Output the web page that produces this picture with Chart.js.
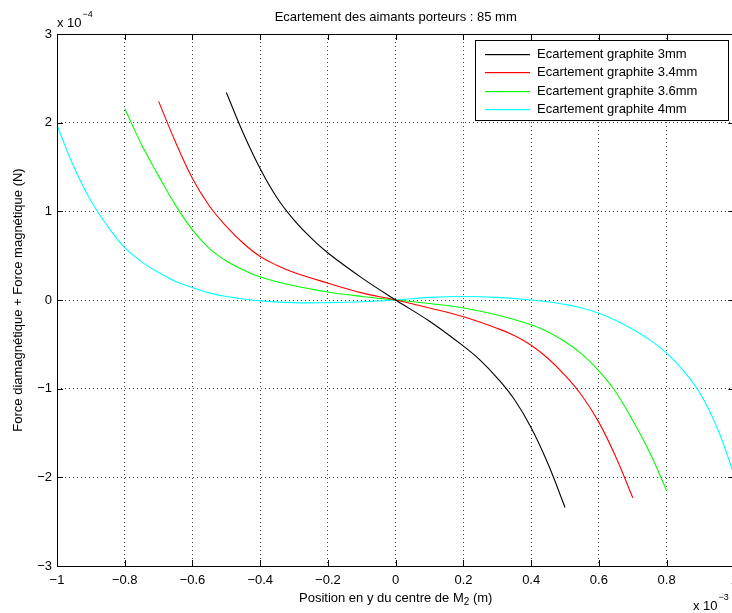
<!DOCTYPE html>
<html>
<head>
<meta charset="utf-8">
<script src="https://cdn.jsdelivr.net/npm/chart.js@4.4.1/dist/chart.umd.min.js"></script>
<style>
  html, body { margin: 0; padding: 0; background: #fff; overflow: hidden; }
  #wrap { position: absolute; left: 0; top: 0; width: 745px; height: 613px; }
</style>
</head>
<body>
<div id="wrap"><canvas id="forceChart" width="745" height="613"></canvas></div>
<script>
// positions in units of 1e-3 m, forces in units of 1e-4 N
const labels = ["Ecartement graphite 3mm", "Ecartement graphite 3.4mm", "Ecartement graphite 3.6mm", "Ecartement graphite 4mm"];
const colors = ["#000000", "#ff0000", "#00ff00", "#00ffff"];

const x3mm = [-0.5, -0.45, -0.4, -0.35, -0.3, -0.25, -0.2, -0.1, 0, 0.1, 0.2, 0.25, 0.3, 0.35, 0.4, 0.45, 0.5];
const f3mm = [2.34, 1.88, 1.48, 1.15, 0.90, 0.70, 0.53, 0.25, 0, -0.24, -0.52, -0.68, -0.88, -1.12, -1.44, -1.85, -2.34];

const x34mm = [-0.7, -0.65, -0.6, -0.55, -0.5, -0.45, -0.4, -0.35, -0.3, -0.2, -0.1, 0, 0.1, 0.2, 0.3, 0.35, 0.4, 0.45, 0.5, 0.55, 0.6, 0.65, 0.7];
const f34mm = [2.24, 1.78, 1.37, 1.06, 0.83, 0.64, 0.49, 0.39, 0.31, 0.19, 0.08, 0, -0.09, -0.19, -0.32, -0.40, -0.51, -0.66, -0.85, -1.08, -1.38, -1.77, -2.23];

const x36mm = [-0.8, -0.75, -0.7, -0.65, -0.6, -0.55, -0.5, -0.45, -0.4, -0.3, -0.2, -0.1, 0, 0.1, 0.2, 0.3, 0.4, 0.45, 0.5, 0.55, 0.6, 0.65, 0.7, 0.75, 0.8];
const f36mm = [2.16, 1.75, 1.40, 1.07, 0.79, 0.58, 0.44, 0.34, 0.26, 0.16, 0.09, 0.04, 0, -0.04, -0.09, -0.17, -0.28, -0.36, -0.47, -0.61, -0.80, -1.04, -1.36, -1.72, -2.15];

const x4mm = [-1, -0.95, -0.9, -0.85, -0.8, -0.75, -0.7, -0.65, -0.6, -0.55, -0.5, -0.4, -0.3, -0.2, -0.1, 0, 0.1, 0.2, 0.3, 0.4, 0.45, 0.5, 0.55, 0.6, 0.65, 0.7, 0.75, 0.8, 0.85, 0.9, 0.95, 1];
const f4mm = [1.97, 1.50, 1.12, 0.83, 0.59, 0.43, 0.31, 0.21, 0.14, 0.08, 0.04, -0.01, -0.03, -0.03, -0.02, 0, 0.03, 0.04, 0.03, 0, -0.02, -0.05, -0.09, -0.15, -0.23, -0.33, -0.45, -0.60, -0.80, -1.06, -1.45, -1.98];

const xSeries = [x3mm, x34mm, x36mm, x4mm];
const fSeries = [f3mm, f34mm, f36mm, f4mm];

const FONT = "'Liberation Sans', Arial, Helvetica, sans-serif";

function fmt(v) {
    const r = Math.round(v * 10) / 10;
    return String(r).replace("-", "\u2212");
}

// Title, axis labels, exponents, box, inward ticks and legend (MATLAB look)
const matlabDecor = {
    id: "matlabDecor",
    afterDraw(chart) {
        const { ctx, chartArea: a, scales } = chart;
        const xs = scales.x, ys = scales.y;
        ctx.save();
        ctx.fillStyle = "#000";
        ctx.font = "13px " + FONT;
        ctx.textAlign = "center";
        ctx.textBaseline = "middle";
        const cx = (a.left + a.right) / 2;
        ctx.fillText("Ecartement des aimants porteurs : 85 mm", cx, 17);

        // x label with subscript
        const p1 = "Position en y du centre de M", sub = "2", p2 = " (m)";
        ctx.textAlign = "left";
        const w1 = ctx.measureText(p1).width;
        ctx.font = "10px " + FONT;
        const ws = ctx.measureText(sub).width;
        ctx.font = "13px " + FONT;
        const w2 = ctx.measureText(p2).width;
        let sx = cx - (w1 + ws + w2) / 2;
        ctx.fillText(p1, sx, 598);
        ctx.font = "10px " + FONT;
        ctx.fillText(sub, sx + w1, 602);
        ctx.font = "13px " + FONT;
        ctx.fillText(p2, sx + w1 + ws, 598);

        // y label
        ctx.save();
        ctx.translate(18, (a.top + a.bottom) / 2);
        ctx.rotate(-Math.PI / 2);
        ctx.textAlign = "center";
        ctx.fillText("Force diamagnétique + Force magnétique (N)", 0, 0);
        ctx.restore();

        // exponents
        ctx.textAlign = "left";
        ctx.textBaseline = "alphabetic";
        ctx.fillText("x 10", a.left, 27);
        let w = ctx.measureText("x 10").width;
        ctx.font = "9px " + FONT;
        ctx.fillText("\u22124", a.left + w + 1, 17);
        ctx.font = "13px " + FONT;
        ctx.fillText("x 10", 693, 610);
        w = ctx.measureText("x 10").width;
        ctx.font = "9px " + FONT;
        ctx.fillText("\u22123", 693 + w + 1, 600);

        // box and inward ticks
        ctx.strokeStyle = "#000";
        ctx.lineWidth = 1;
        ctx.strokeRect(Math.round(a.left) + 0.5, Math.round(a.top) + 0.5, Math.round(a.right - a.left), Math.round(a.bottom - a.top));
        ctx.beginPath();
        xs.ticks.forEach(t => {
            const px = Math.round(xs.getPixelForValue(t.value)) + 0.5;
            ctx.moveTo(px, a.bottom); ctx.lineTo(px, a.bottom - 6);
            ctx.moveTo(px, a.top); ctx.lineTo(px, a.top + 6);
        });
        ys.ticks.forEach(t => {
            const py = Math.round(ys.getPixelForValue(t.value)) + 0.5;
            ctx.moveTo(a.left, py); ctx.lineTo(a.left + 6, py);
            ctx.moveTo(a.right, py); ctx.lineTo(a.right - 6, py);
        });
        ctx.stroke();

        // legend
        const lx = 475.5, ly = 40.5, lw = 253, lh = 80;
        ctx.fillStyle = "#fff";
        ctx.fillRect(lx, ly, lw, lh);
        ctx.strokeStyle = "#000";
        ctx.strokeRect(lx, ly, lw, lh);
        ctx.font = "13px " + FONT;
        ctx.textBaseline = "middle";
        labels.forEach((lab, i) => {
            const y = Math.round(53.5 + i * 18.6);
            ctx.fillStyle = colors[i];
            ctx.fillRect(485, y, 45, 1.2);
            ctx.fillStyle = "#000";
            ctx.fillText(lab, 537, y);
        });
        ctx.restore();
    }
};

const ctx = document.getElementById("forceChart").getContext("2d");
new Chart(ctx, {
    type: "line",
    data: {
        datasets: labels.map((lab, i) => ({
            label: lab,
            data: xSeries[i].map((x, k) => ({ x: x, y: fSeries[i][k] })),
            borderColor: colors[i],
            backgroundColor: colors[i],
            borderWidth: 1.1,
            pointRadius: 0,
            fill: false,
            tension: 0.4,
        })),
    },
    options: {
        responsive: false,
        animation: false,
        devicePixelRatio: 1,
        layout: { padding: { left: 0, top: 34, right: 10, bottom: 0 } },
        plugins: { legend: { display: false }, tooltip: { enabled: false } },
        scales: {
            x: {
                type: "linear",
                min: -1, max: 1,
                ticks: { stepSize: 0.2, color: "#000", padding: 7, font: { family: FONT, size: 13 }, callback: v => fmt(v), maxRotation: 0 },
                grid: { color: "rgba(0,0,0,0.75)", drawTicks: false, lineWidth: 1 },
                border: { display: false, dash: [1, 3] },
                afterFit: s => { s.height = 47; },
            },
            y: {
                min: -3, max: 3,
                ticks: { stepSize: 1, color: "#000", padding: 5, font: { family: FONT, size: 13 }, callback: v => fmt(v) },
                grid: { color: "rgba(0,0,0,0.75)", drawTicks: false, lineWidth: 1 },
                border: { display: false, dash: [1, 3] },
                afterFit: s => { s.width = 57; },
            },
        },
    },
    plugins: [matlabDecor],
});
</script>
</body>
</html>
